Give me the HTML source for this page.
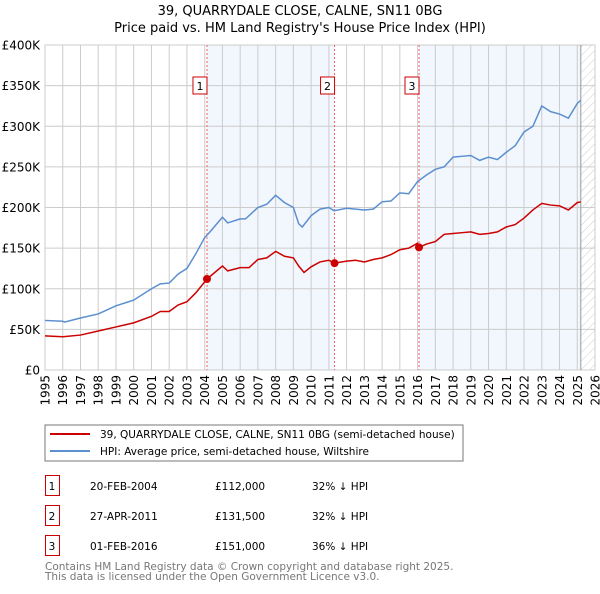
<!DOCTYPE html>
<html><head><meta charset="utf-8"><style>
body{margin:0;background:#fff;font-family:"DejaVu Sans","Liberation Sans",sans-serif;}
svg text{font-family:"DejaVu Sans","Liberation Sans",sans-serif;}
</style></head><body>
<svg id="c" width="600" height="590" xmlns="http://www.w3.org/2000/svg">
<defs><pattern id="hatch" width="6" height="6" patternUnits="userSpaceOnUse" patternTransform="rotate(45)"><line x1="0" y1="0" x2="0" y2="6" stroke="#ccc" stroke-width="1"/></pattern></defs>
<text x="300" y="15" text-anchor="middle" font-size="13">39, QUARRYDALE CLOSE, CALNE, SN11 0BG</text>
<text x="300" y="32" text-anchor="middle" font-size="13">Price paid vs. HM Land Registry's House Price Index (HPI)</text>
<g id="plot"></g>
<rect x="45" y="425" width="418" height="36" fill="#fff" stroke="#777"/>
<line x1="50" y1="434" x2="90" y2="434" stroke="#cc0000" stroke-width="2"/>
<text x="100" y="438" font-size="10.5">39, QUARRYDALE CLOSE, CALNE, SN11 0BG (semi-detached house)</text>
<line x1="50" y1="451" x2="90" y2="451" stroke="#5b8fd0" stroke-width="2"/>
<text x="100" y="455" font-size="10.5">HPI: Average price, semi-detached house, Wiltshire</text>
<g id="tbl" font-size="10.5"></g>
<text x="45" y="570" font-size="10.5" fill="#777">Contains HM Land Registry data © Crown copyright and database right 2025.</text>
<text x="45" y="580" font-size="10.5" fill="#777">This data is licensed under the Open Government Licence v3.0.</text>
</svg>
<script>
const hpiYears=[1995,1996,1996.1,1997,1998,1999,2000,2001,2001.5,2002,2002.5,2003,2003.5,2004,2004.3,2005,2005.3,2006,2006.3,2007,2007.5,2008,2008.5,2009,2009.3,2009.5,2010,2010.5,2011,2011.3,2012,2012.5,2013,2013.5,2014,2014.5,2015,2015.5,2016,2016.5,2017,2017.5,2018,2018.5,2019,2019.5,2020,2020.5,2021,2021.5,2022,2022.5,2023,2023.5,2024,2024.5,2025,2025.2];
const hpiValues=[61,60,59,64,69,79,86,100,106,107,118,125,143,163,170,188,181,186,186,200,204,215,206,200,180,176,190,198,200,196,199,198,197,198,207,208,218,217,232,240,247,250,262,263,264,258,262,259,268,276,293,300,325,318,315,310,328,332];
const priceYears=[1995,1996,1997,1998,1999,2000,2001,2001.5,2002,2002.5,2003,2003.5,2004.13,2005,2005.3,2006,2006.5,2007,2007.5,2008,2008.5,2009,2009.3,2009.6,2010,2010.5,2011,2011.32,2012,2012.5,2013,2013.5,2014,2014.5,2015,2015.5,2016,2016.08,2016.5,2017,2017.5,2018,2018.5,2019,2019.5,2020,2020.5,2021,2021.5,2022,2022.5,2023,2023.5,2024,2024.5,2025,2025.2];
const priceValues=[42,41,43,48,53,58,66,72,72,80,84,95,112,128,122,126,126,136,138,146,140,138,128,120,127,133,135,131.5,134,135,133,136,138,142,148,150,156,151,155,158,167,168,169,170,167,168,170,176,179,187,197,205,203,202,197,206,207];
const saleYears=[2004.13,2011.32,2016.08];
const saleValues=[112,131.5,151];
const saleLabels=["1","2","3"];
const saleDates=["20-FEB-2004","27-APR-2011","01-FEB-2016"];
const salePrices=["£112,000","£131,500","£151,000"];
const saleDiffs=["32% ↓ HPI","32% ↓ HPI","36% ↓ HPI"];
const yTicks=[0,50,100,150,200,250,300,350,400];
const yTickLabels=["£0","£50K","£100K","£150K","£200K","£250K","£300K","£350K","£400K"];
const xTicks=[1995,1996,1997,1998,1999,2000,2001,2002,2003,2004,2005,2006,2007,2008,2009,2010,2011,2012,2013,2014,2015,2016,2017,2018,2019,2020,2021,2022,2023,2024,2025,2026];
const dataEnd=2025.2;

const NS="http://www.w3.org/2000/svg";
const L=45,R=595,T=45,B=370;
const xs=y=>L+(y-1995)/(2026-1995)*(R-L);
const ys=v=>B-v/400*(B-T);
const g=document.getElementById('plot');
function mk(tag,attrs,parent){const e=document.createElementNS(NS,tag);for(const k in attrs)e.setAttribute(k,attrs[k]);(parent||g).appendChild(e);return e;}

let r=mk('rect',{x:xs(saleYears[0]),y:T,width:xs(saleYears[1])-xs(saleYears[0]),height:B-T,fill:'#f2f6fd'});


r=mk('rect',{x:xs(saleYears[2]),y:T,width:xs(dataEnd)-xs(saleYears[2]),height:B-T,fill:'#f2f6fd'});


r=mk('rect',{x:xs(dataEnd),y:T,width:R-xs(dataEnd),height:B-T,fill:'url(#hatch)'});



yTicks.forEach((t,i)=>{
  const l=mk('line',{x1:L,x2:R,y1:ys(t),y2:ys(t),stroke:'#ccc','stroke-width':1});
  
  
  const tx=mk('text',{x:L-5,y:ys(t)+4.5,'text-anchor':'end','font-size':12});
  
  
  tx.textContent=yTickLabels[i];
});
xTicks.forEach(t=>{
  const l=mk('line',{x1:xs(t),x2:xs(t),y1:T,y2:B,stroke:'#ccc','stroke-width':1});
  
  
  const tx=mk('text',{x:0,y:0,'text-anchor':'end','font-size':12,transform:`translate(${xs(t)+4.5},${B+5}) rotate(-90)`});
  
  
  tx.textContent=t;
});
let bd=mk('rect',{x:L,y:T,width:R-L,height:B-T,fill:'none',stroke:'#ccc'});


let el=mk('line',{x1:xs(dataEnd),x2:xs(dataEnd),y1:T,y2:B,stroke:'#999','stroke-width':1});



saleYears.forEach((s,i)=>{
  const l=mk('line',{x1:xs(s),x2:xs(s),y1:T,y2:B,stroke:'#f06060','stroke-width':1,'stroke-dasharray':'2,2'});
  
  
  const bx=mk('rect',{x:xs(s)-14,y:77,width:14,height:17,fill:'#fff',stroke:'#cc0000'});
  
  
  const tx=mk('text',{x:xs(s)-7,y:90,'text-anchor':'middle','font-size':11});
  
  
  tx.textContent=saleLabels[i];
});

const hp=mk('polyline',{points:hpiYears.map((y,i)=>xs(y)+','+ys(hpiValues[i])).join(' '),fill:'none',stroke:'#5b8fd0','stroke-width':1.5});


const pp=mk('polyline',{points:priceYears.map((y,i)=>xs(y)+','+ys(priceValues[i])).join(' '),fill:'none',stroke:'#cc0000','stroke-width':1.5});


saleYears.forEach((s,i)=>{
  const c=mk('circle',{cx:xs(s),cy:ys(saleValues[i]),r:4,fill:'#cc0000'});
  
  
});

const tb=document.getElementById('tbl');
saleYears.forEach((s,i)=>{
  const y=476+i*30;
  const b=mk('rect',{x:45.5,y:y-0.5,width:14,height:20,fill:'#fff',stroke:'#cc0000'},tb);
  
  
  const cols=[[52,saleLabels[i],'middle'],[90,saleDates[i],'start'],[215,salePrices[i],'start'],[312,saleDiffs[i],'start']];
  cols.forEach(([x,t,a],j)=>{
    const tx=mk('text',{x:x,y:y+14,'text-anchor':a},tb);
    
    
    tx.textContent=t;
  });
});
</script>
</body></html>
